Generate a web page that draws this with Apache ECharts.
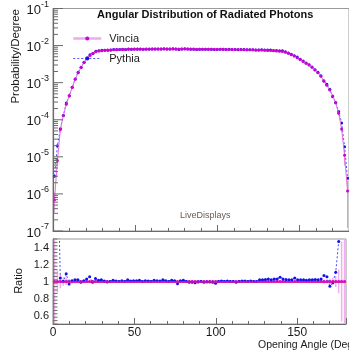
<!DOCTYPE html>
<html>
<head>
<meta charset="utf-8">
<script src="https://cdn.jsdelivr.net/npm/echarts@6/dist/echarts.min.js"></script>
<style>
  html, body { margin: 0; padding: 0; background: #fff; }
  #chart { width: 349px; height: 361px; }
</style>
</head>
<body>
<div id="chart"></div>
<script>
// Histogram: 100 bins of 1.8 degrees over 0..180
const binWidth = 1.8;
const nBins = 100;

// Vincia: probability per degree in each bin
const vincia = [
  7e-7, 8e-6, 5.5e-5, 1.3e-4, 2.6e-4, 4.5e-4, 7.4e-4, 1.23e-3, 1.86e-3, 2.6e-3,
  3.5e-3, 4.5e-3, 5.4e-3, 6.2e-3, 6.8e-3, 7.1e-3, 7.3e-3, 7.45e-3, 7.55e-3, 7.65e-3,
  7.7e-3, 7.75e-3, 7.8e-3, 7.85e-3, 7.9e-3, 7.92e-3, 7.95e-3, 7.97e-3, 7.98e-3, 8.0e-3,
  8.0e-3, 8.02e-3, 8.02e-3, 8.03e-3, 8.03e-3, 8.04e-3, 8.04e-3, 8.05e-3, 8.05e-3, 8.05e-3,
  8.05e-3, 8.05e-3, 8.05e-3, 8.05e-3, 8.04e-3, 8.04e-3, 8.03e-3, 8.03e-3, 8.02e-3, 8.01e-3,
  8.0e-3, 7.99e-3, 7.98e-3, 7.97e-3, 7.96e-3, 7.95e-3, 7.93e-3, 7.92e-3, 7.9e-3, 7.88e-3,
  7.86e-3, 7.84e-3, 7.82e-3, 7.8e-3, 7.77e-3, 7.74e-3, 7.71e-3, 7.68e-3, 7.65e-3, 7.6e-3,
  7.55e-3, 7.5e-3, 7.42e-3, 7.35e-3, 7.27e-3, 7.17e-3, 7.05e-3, 6.9e-3, 6.6e-3, 6.2e-3,
  5.7e-3, 5.2e-3, 4.7e-3, 4.2e-3, 3.75e-3, 3.35e-3, 3.0e-3, 2.6e-3, 2.2e-3, 1.85e-3,
  1.5e-3, 1.1e-3, 8.5e-4, 6.3e-4, 4.4e-4, 2.9e-4, 1.5e-4, 5.6e-5, 1.1e-5, 1.2e-6
];

// Pythia / Vincia in each bin
const pythiaRatio = [
  4.3, 2.5, 1.04, 1.0, 1.09, 0.97, 1.01, 1.02, 1.02, 0.99,
  1.01, 1.03, 1.055, 0.99, 1.035, 1.015, 1.02, 1.005, 0.995, 1.0,
  1.015, 1.005, 1.0, 1.01, 1.0, 1.02, 1.005, 1.01, 1.01, 1.015,
  1.0, 1.01, 1.005, 1.0, 1.015, 1.01, 1.005, 1.02, 1.01, 1.0,
  1.015, 1.01, 0.975, 1.01, 1.015, 1.0, 0.99, 0.99, 0.985, 0.995,
  1.0, 0.99, 0.995, 0.995, 0.99, 0.98, 1.0, 1.005, 1.0, 1.005,
  1.0, 1.0, 0.99, 1.0, 1.005, 1.005, 1.0, 1.005, 1.0, 1.0,
  1.02, 1.02, 1.025, 1.03, 1.02, 1.03, 1.03, 1.05, 1.03, 1.025,
  1.02, 1.02, 1.04, 1.02, 1.02, 1.02, 1.015, 1.02, 1.02, 1.025,
  1.02, 1.03, 1.07, 1.055, 0.945, 0.985, 1.11, 1.47, 1.7, 2.2
];

// Relative statistical error of Vincia in each bin
const vinciaRelErr = [
  0.55, 0.13, 0.08, 0.05, 0.04, 0.03, 0.025, 0.02, 0.016, 0.013,
  0.011, 0.01, 0.009, 0.008, 0.008, 0.007, 0.007, 0.007, 0.007, 0.007,
  0.007, 0.007, 0.007, 0.007, 0.007, 0.007, 0.007, 0.007, 0.007, 0.007,
  0.007, 0.007, 0.007, 0.007, 0.007, 0.007, 0.007, 0.007, 0.007, 0.007,
  0.007, 0.007, 0.007, 0.007, 0.007, 0.007, 0.007, 0.007, 0.007, 0.007,
  0.007, 0.007, 0.007, 0.007, 0.007, 0.007, 0.007, 0.007, 0.007, 0.007,
  0.007, 0.007, 0.007, 0.007, 0.007, 0.007, 0.007, 0.007, 0.007, 0.007,
  0.007, 0.007, 0.007, 0.007, 0.007, 0.007, 0.007, 0.007, 0.008, 0.008,
  0.008, 0.009, 0.009, 0.01, 0.01, 0.011, 0.012, 0.013, 0.014, 0.015,
  0.017, 0.02, 0.023, 0.027, 0.032, 0.04, 0.065, 0.14, 0.47, 0.9
];

// Axis tick labels
const xTickLabels = ['0', '50', '100', '150'];
const decadeExponents = [-7, -6, -5, -4, -3, -2, -1];
const ratioTickLabels = ['0.6', '0.8', '1', '1.2', '1.4'];

const FONT = '"Liberation Sans", Arial, Helvetica, sans-serif';
const MAGENTA = '#d000d0';
const BLUE = '#1010f0';
const AXIS = '#6a6a6a';

const centers = [];
for (let i = 0; i < nBins; i++) centers.push(+(binWidth * (i + 0.5)).toFixed(2));

const vinciaTop = centers.map((c, i) => [c, vincia[i]]);
const pythiaTop = centers.map((c, i) => [c, vincia[i] * pythiaRatio[i]]);
const vinciaTopErr = centers.map((c, i) => [c, vincia[i] * (1 - Math.min(vinciaRelErr[i], 0.95)), vincia[i] * (1 + vinciaRelErr[i])]);
const vinciaRatio = centers.map(c => [c, 1]);
const vinciaRatioErr = centers.map((c, i) => [c, 1 - vinciaRelErr[i], 1 + vinciaRelErr[i]]);
const pythiaRatioPts = centers.map((c, i) => [c, pythiaRatio[i]]);

// Tick marks on the vertical axes: [x, value, length]
const topTicks = [];
decadeExponents.forEach((e, di) => {
  const base = Math.pow(10, e);
  topTicks.push([0, base, 10]);
  if (di < decadeExponents.length - 1) {
    for (let k = 2; k <= 9; k++) topTicks.push([0, k * base, 5]);
  }
});
const ratioTicks = [];
for (let k = 0; k <= 25; k++) {
  const v = +(0.5 + k * 0.04).toFixed(2);
  const isMajor = ratioTickLabels.includes(String(v));
  ratioTicks.push([0, v, isMajor ? 9 : 4.5]);
}

function errorBars(name, xi, yi, data, color, width) {
  return {
    name, type: 'custom', xAxisIndex: xi, yAxisIndex: yi, silent: true,
    data, clip: true, z: 1,
    renderItem(params, api) {
      const lo = api.coord([api.value(0), api.value(1)]);
      const hi = api.coord([api.value(0), api.value(2)]);
      return { type: 'line', shape: { x1: lo[0], y1: lo[1], x2: hi[0], y2: hi[1] },
               style: { stroke: color, lineWidth: width } };
    }
  };
}

function tickMarks(xi, yi, data) {
  return {
    type: 'custom', xAxisIndex: xi, yAxisIndex: yi, silent: true, data, clip: false, z: 5,
    renderItem(params, api) {
      const p = api.coord([api.value(0), api.value(1)]);
      const len = api.value(2);
      return { type: 'line', shape: { x1: p[0], y1: p[1], x2: p[0] + len, y2: p[1] },
               style: { stroke: AXIS, lineWidth: 1 } };
    }
  };
}

const chart = echarts.init(document.getElementById('chart'), null, { renderer: 'canvas' });

chart.setOption({
  animation: false,
  backgroundColor: '#fff',
  textStyle: { fontFamily: FONT },
  grid: [
    { left: 53, top: 7, right: -4, bottom: 130, show: true, borderColor: '#9a9a9a', borderWidth: 1 },
    { left: 53, top: 239, right: -4, bottom: 37, show: true, borderColor: '#9a9a9a', borderWidth: 1 }
  ],
  xAxis: [
    {
      gridIndex: 0, type: 'value', min: 0, max: 180, interval: 50,
      axisLine: { show: true, lineStyle: { color: AXIS, width: 1.2 } },
      axisTick: { show: true, inside: true, length: 6, lineStyle: { color: AXIS } },
      minorTick: { show: true, splitNumber: 5, length: 3, lineStyle: { color: AXIS } },
      axisLabel: { show: false }, splitLine: { show: false }
    },
    {
      gridIndex: 1, type: 'value', min: 0, max: 180, interval: 50,
      axisLine: { show: true, lineStyle: { color: AXIS, width: 1.2 } },
      axisTick: { show: true, inside: true, length: 6, lineStyle: { color: AXIS } },
      minorTick: { show: true, splitNumber: 5, length: 3, lineStyle: { color: AXIS } },
      axisLabel: {
        show: true, margin: 3, fontSize: 12, color: '#1a1a1a', fontFamily: FONT,
        formatter: v => xTickLabels.includes(String(v)) ? String(v) : ''
      },
      splitLine: { show: false }
    }
  ],
  yAxis: [
    {
      gridIndex: 0, type: 'log', logBase: 10, min: 1e-7, max: 1e-1, splitNumber: 6,
      axisLine: { show: true, lineStyle: { color: AXIS, width: 1.2 } },
      axisTick: { show: false }, minorTick: { show: false }, splitLine: { show: false },
      axisLabel: {
        show: true, margin: 4, color: '#1a1a1a',
        formatter: v => {
          const e = Math.round(Math.log10(v));
          return decadeExponents.includes(e) ? '{b|10}{s|' + e + '}' : '';
        },
        rich: {
          b: { fontSize: 13, fontFamily: FONT, color: '#1a1a1a', verticalAlign: 'bottom', lineHeight: 17 },
          s: { fontSize: 9, fontFamily: FONT, color: '#1a1a1a', verticalAlign: 'top', lineHeight: 17 }
        }
      }
    },
    {
      gridIndex: 1, type: 'value', min: 0.5, max: 1.5, interval: 0.1,
      axisLine: { show: true, lineStyle: { color: AXIS, width: 1.2 } },
      axisTick: { show: false }, minorTick: { show: false }, splitLine: { show: false },
      axisLabel: {
        show: true, margin: 4, fontSize: 11, color: '#1a1a1a', fontFamily: FONT,
        formatter: v => {
          const s = String(+v.toFixed(1));
          return ratioTickLabels.includes(s) ? s : '';
        }
      }
    }
  ],
  legend: {
    orient: 'vertical', left: 67, top: 28, padding: 5, itemWidth: 28, itemHeight: 5, itemGap: 9,
    textStyle: { fontSize: 11, fontFamily: FONT, color: '#1a1a1a', padding: [0, 0, 0, 3] },
    data: [
      { name: 'Vincia', itemStyle: { color: MAGENTA },
        lineStyle: { color: '#eeaaee', width: 2.5, type: 'solid' } },
      { name: 'Pythia', itemStyle: { color: BLUE },
        lineStyle: { color: '#5050ff', width: 1, type: [2, 2] } }
    ]
  },
  series: [
    errorBars('vinciaErrTop', 0, 0, vinciaTopErr, '#e890e8', 1),
    {
      name: 'Vincia', type: 'line', xAxisIndex: 0, yAxisIndex: 0, data: vinciaTop,
      symbol: 'circle', symbolSize: 3, showSymbol: true, clip: true, z: 3,
      itemStyle: { color: MAGENTA }, lineStyle: { color: '#e070e0', width: 1 }
    },
    {
      name: 'Pythia', type: 'line', xAxisIndex: 0, yAxisIndex: 0, data: pythiaTop,
      symbol: 'circle', symbolSize: 3, showSymbol: true, clip: true, z: 2,
      itemStyle: { color: BLUE }, lineStyle: { color: '#4a4aff', width: 1, type: [2, 2] }
    },
    errorBars('vinciaErrRatio', 1, 1, vinciaRatioErr, '#f0b0f0', 1.5),
    {
      name: 'VinciaRatio', type: 'line', xAxisIndex: 1, yAxisIndex: 1, data: vinciaRatio,
      symbol: 'circle', symbolSize: 3, showSymbol: true, clip: true, z: 3,
      itemStyle: { color: MAGENTA }, lineStyle: { color: '#e0189c', width: 1.5 },
      markLine: {
        silent: true, symbol: 'none', label: { show: false },
        lineStyle: { color: '#e0189c', width: 1.5, type: 'solid' },
        data: [{ yAxis: 1 }]
      }
    },
    {
      name: 'PythiaRatio', type: 'line', xAxisIndex: 1, yAxisIndex: 1, data: pythiaRatioPts,
      symbol: 'circle', symbolSize: 3, showSymbol: true, clip: true, z: 4,
      itemStyle: { color: BLUE }, lineStyle: { color: '#4a4aff', width: 1, type: [2, 2] }
    },
    tickMarks(0, 0, topTicks),
    tickMarks(1, 1, ratioTicks)
  ],
  graphic: [
    { type: 'text', left: 97, top: 9, style: { text: 'Angular Distribution of Radiated Photons',
      font: 'bold 11px ' + FONT, fill: '#111' } },
    { type: 'text', left: 180, top: 211, style: { text: 'LiveDisplays',
      font: '9px ' + FONT, fill: '#6a5a50' } },
    { type: 'text', left: 258, top: 340, style: { text: 'Opening Angle (Degrees)',
      font: '10.5px ' + FONT, fill: '#1a1a1a' } },
    { type: 'text', x: 16, y: 9, rotation: Math.PI / 2, style: { text: 'Probability/Degree',
      font: '11.5px ' + FONT, fill: '#1a1a1a', align: 'right', verticalAlign: 'middle' } },
    { type: 'text', x: 19, y: 281, rotation: Math.PI / 2, style: { text: 'Ratio',
      font: '11px ' + FONT, fill: '#1a1a1a', align: 'center', verticalAlign: 'middle' } }
  ]
});
</script>
</body>
</html>
